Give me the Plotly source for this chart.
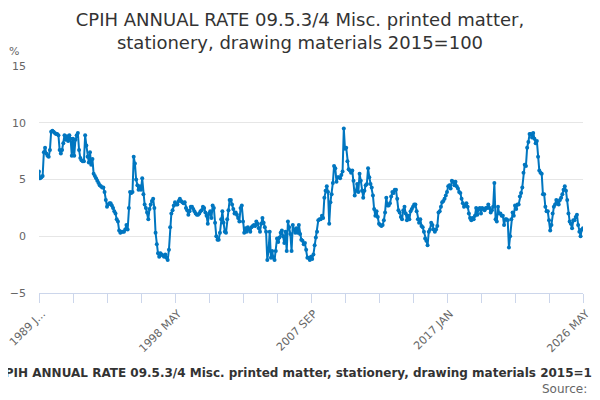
import plotly.graph_objects as go

MONTHS = ["JAN", "FEB", "MAR", "APR", "MAY", "JUN", "JUL", "AUG", "SEP", "OCT", "NOV", "DEC"]
categories = [f"{y} {m}" for y in range(1989, 2027) for m in MONTHS][:449]

# Annual rate (%), monthly, Jan 1989 - May 2026
vals_1989_1993 = [5.7, 5.1, 5.2, 5.3, 7.4, 7.8, 7.3, 7.1, 7.0, 7.6,
                  9.2, 9.3, 9.2, 9.1, 9.0, 9.0, 8.9, 7.6, 7.3, 7.6,
                  8.2, 8.9, 8.5, 8.8, 8.4, 8.9, 8.6, 7.1, 8.6, 7.1,
                  8.5, 8.9, 9.1, 7.6, 6.9, 6.7, 6.6, 6.6, 8.9, 8.0,
                  7.0, 6.5, 7.4, 6.3, 6.8, 5.5, 5.3, 5.1, 4.9, 4.7,
                  4.5, 4.4, 4.3, 4.3, 3.9, 3.2, 2.6, 2.8]
vals_1993_1998 = [2.9, 2.9,
                  2.7, 2.5, 2.2, 2.0, 1.5, 1.3, 0.5, 0.3, 0.4, 0.4,
                  0.4, 0.6, 1.0, 0.6, 2.5, 3.9, 3.8, 3.9, 7.0, 6.4,
                  5.0, 4.5, 4.1, 4.4, 4.1, 5.1, 3.7, 2.8, 2.5, 2.1,
                  1.5, 2.4, 2.8, 3.1, 3.3, 2.5, 0.3, -0.7, -1.5, -1.8,
                  -1.5, -1.6, -1.7, -1.8, -1.6, -1.9, -2.1, -1.2, 0.8, 2.0,
                  2.3, 2.7, 3.0, 2.8, 2.8, 3.1, 3.3]
vals_1998_2003 = [3.1, 3.0, 2.9,
                  3.0, 2.5, 2.3, 1.9, 2.2, 2.6, 2.6, 2.4, 2.2, 2.0,
                  1.9, 1.9, 2.0, 2.2, 2.3, 2.6, 2.5, 2.1, 1.8, 1.1,
                  2.0, 2.2, 1.6, 2.7, 2.5, 1.2, 0.0, -0.3, -0.3, 0.3,
                  1.5, 2.2, 1.2, 0.4, 0.3, 1.5, 2.3, 3.2, 3.2, 2.8,
                  2.4, 2.0, 2.1, 1.9, 1.6, 1.3, 2.5, 2.7, 1.3, 0.3,
                  0.7, 0.4, 0.8, 0.6, 0.4]
vals_2003_2008 = [0.8, 0.9, 1.0, 0.9, 1.3,
                  1.1, 0.7, 0.4, 1.1, 1.6, 1.2, 0.8, 0.4, -2.1, -1.3,
                  0.4, -1.9, -1.3, -1.9, -2.1, -1.3, -0.2, -0.5, -0.1, 0.3,
                  0.5, 0.0, -0.6, 0.4, -1.3, 1.3, 0.8, 0.2, -1.3, 1.0,
                  0.6, 0.3, 0.7, 0.3, 1.0, 0.2, -0.3, -0.4, -0.7, -0.6,
                  -1.2, -1.9, -1.9, -2.1, -1.8, -2.0, -1.6, -0.8, -0.1, 0.4,
                  1.4, 1.5]
vals_2008_2013 = [1.5, 1.8, 1.6, 3.4, 4.0, 4.4, 3.9, 1.1,
                  3.0, 3.7, 4.7, 6.2, 6.0, 4.8, 5.2, 5.2, 5.1, 5.4,
                  5.7, 9.5, 7.7, 7.8, 6.6, 5.9, 5.8, 5.6, 5.8, 4.9,
                  3.6, 4.0, 4.6, 3.9, 5.5, 4.9, 4.0, 3.4, 4.0, 4.5,
                  4.6, 6.0, 5.2, 4.6, 4.3, 3.6, 2.4, 1.8, 2.2, 1.7,
                  1.1, 1.0, 0.9, 1.0, 1.4, 2.1, 3.4, 2.7, 2.7, 2.9]
vals_2013_2017 = [3.5, 3.9, 3.8, 4.1, 4.1, 3.3, 2.3, 2.1, 1.7, 1.5,
                  2.3, 2.6, 2.0, 1.4, 1.8, 1.5, 2.2, 2.4, 2.6, 2.8,
                  2.8, 2.2, 1.5, 1.2, 1.5, 0.9, 0.8, 0.4, -0.2, -0.4,
                  -0.8, 0.4, 0.6, 1.2, 1.0, 0.6, 0.4, 0.6, 0.9, 2.1,
                  2.2, 2.6, 3.0, 3.1, 3.3, 3.6, 3.9, 4.4, 4.5, 4.2,
                  4.9, 4.8, 4.5, 4.8, 4.4, 4.2, 3.9]
vals_2017_2022 = [3.8, 3.3, 2.9,
                  2.6, 2.7, 2.9, 2.6, 2.0, 1.6, 1.4, 1.6, 1.5, 1.8,
                  2.5, 1.9, 2.4, 2.5, 2.0, 2.5, 2.4, 2.3, 2.5, 2.5,
                  2.8, 2.5, 2.1, 2.3, 2.6, 4.7, 1.5, 1.3, 2.6, 2.0,
                  2.0, 1.8, 1.8, 1.0, 1.5, 1.5, 1.4, -1.0, 0.0, 1.5,
                  2.1, 1.8, 2.7, 2.4, 2.8, 2.8, 3.5, 3.8, 4.3, 5.6,
                  6.3, 6.2, 7.8, 8.3, 9.0]
vals_2022_2026 = [9.0, 8.7, 9.1, 8.6, 8.2,
                  8.4, 7.0, 5.8, 5.6, 5.5, 3.7, 3.7, 2.6, 2.2, 2.2,
                  1.4, 0.5, 1.0, 2.0, 2.6, 2.8, 3.2, 3.0, 2.8, 3.2,
                  3.4, 3.7, 4.1, 4.4, 4.0, 3.2, 2.0, 1.3, 1.1, 0.7,
                  1.4, 1.4, 1.7, 1.9, 1.0, 0.4, 0.0, 0.6, 0.7]

values = (vals_1989_1993 + vals_1993_1998 + vals_1998_2003 + vals_2003_2008
          + vals_2008_2013 + vals_2013_2017 + vals_2017_2022 + vals_2022_2026)

tick_step = 28
tick_cats = categories[::tick_step]
major_labels = {"1989 JAN": "1989 J...", "1998 MAY": "1998 MAY", "2007 SEP": "2007 SEP",
                "2017 JAN": "2017 JAN", "2026 MAY": "2026 MAY"}
tick_text = [major_labels.get(c, "") for c in tick_cats]

title_text = "CPIH ANNUAL RATE 09.5.3/4 Misc. printed matter, stationery, drawing materials 2015=100"

FONT = "DejaVu Sans"
BLUE = "#0076c0"
W, H = 600, 400
OFF = 8  # page body margin: figure origin sits at (8, 8) in the window
# target positions in window pixels, converted to figure pixels
L = 39 - OFF
T = 66 - OFF
R = W - (583 - OFF)
B = H - (293 - OFF)
plot_w = W - L - R
plot_h = H - T - B


def px(xw):
    return (xw - OFF - L) / plot_w


def py(yw):
    return (H - B - (yw - OFF)) / plot_h


fig = go.Figure()
fig.add_trace(go.Scatter(
    x=categories, y=values, mode="lines+markers",
    line=dict(color=BLUE, width=2),
    marker=dict(color=BLUE, size=4),
    showlegend=False,
))

fig.update_layout(
    width=W, height=H,
    margin=dict(l=L, r=R, t=T, b=B, autoexpand=False),
    paper_bgcolor="white", plot_bgcolor="white",
    font=dict(family=FONT, color="#666666", size=11),
    title=dict(text="CPIH ANNUAL RATE 09.5.3/4 Misc. printed matter,<br>stationery, drawing materials 2015=100",
               x=(300 - OFF) / W, xanchor="center", xref="container",
               y=1 - (26 - OFF) / H, yanchor="middle", yref="container",
               font=dict(family=FONT, size=18, color="#333333")),
    xaxis=dict(type="category", range=[0, len(categories) - 1], automargin=False,
               tickmode="array", tickvals=tick_cats, ticktext=tick_text,
               tickangle=-45, ticks="outside", ticklen=9, tickcolor="#ccd6eb",
               ticklabelshift=3,
               showline=True, linecolor="#ccd6eb", linewidth=1,
               showgrid=False, zeroline=False,
               tickfont=dict(family=FONT, size=11, color="#666666")),
    yaxis=dict(range=[-5, 15], tickvals=[-5, 0, 5, 10, 15], automargin=False,
               showgrid=True, gridcolor="#e6e6e6", gridwidth=1,
               zeroline=False, showline=False, ticks="",
               ticklabelstandoff=12,
               tickfont=dict(family=FONT, size=11, color="#666666")),
)

fig.add_annotation(text="%", xref="paper", yref="paper",
                   x=px(14), y=py(52),
                   showarrow=False, xanchor="center", yanchor="middle",
                   font=dict(family=FONT, size=11, color="#666666"))
fig.add_annotation(text="<b>" + title_text + "</b>", xref="paper", yref="paper",
                   x=px(302), y=py(373),
                   showarrow=False, xanchor="center", yanchor="middle",
                   font=dict(family=FONT, size=12, color="#333333"))
fig.add_annotation(text="Source:", xref="paper", yref="paper",
                   x=px(589), y=py(389),
                   showarrow=False, xanchor="right", yanchor="middle",
                   font=dict(family=FONT, size=12, color="#666666"))

fig.write_html("out.html")
